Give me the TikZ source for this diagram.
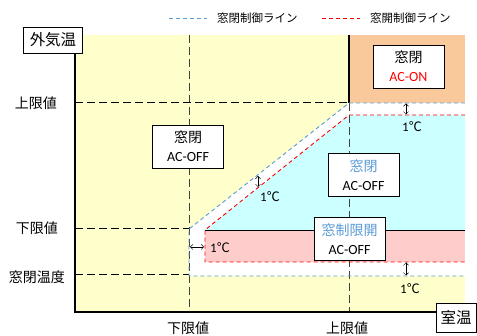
\documentclass[tikz,border=0pt]{standalone}
\usepackage{fontspec}
\setmainfont{Carlito}
\newfontfamily\jp{Noto Sans CJK JP}
\usetikzlibrary{arrows.meta}
\definecolor{bgyellow}{HTML}{FFFFCC}
\definecolor{bgorange}{HTML}{F9C89B}
\definecolor{bgcyan}{HTML}{CCFFFF}
\definecolor{bgpink}{HTML}{FFCCCC}
\definecolor{lblue}{HTML}{5B9BD5}
\definecolor{lred}{HTML}{FF0000}
\definecolor{dgray}{HTML}{404040}
\tikzset{
  bluedash/.style={draw=lblue, line width=0.9pt, dash pattern=on 4pt off 3pt},
  reddash/.style={draw=lred, line width=0.9pt, dash pattern=on 4pt off 3pt},
  blackdash/.style={draw=black, line width=1pt, dash pattern=on 8pt off 4pt},
  graydash/.style={draw=dgray, line width=1pt, dash pattern=on 8pt off 4pt},
  statebox/.style={draw, fill=white, line width=0.8pt, minimum width=71pt, minimum height=43pt, inner sep=0pt, align=center, font=\fontsize{14}{19}\selectfont},
  axlabel/.style={draw, fill=white, line width=0.8pt, inner sep=0pt, font=\jp\fontsize{15.5}{18}\selectfont},
  ticklabel/.style={inner sep=0pt, font=\jp\fontsize{14}{16}\selectfont},
  deglabel/.style={inner sep=0pt, font=\fontsize{13}{15}\selectfont},
  legtext/.style={inner sep=0pt, font=\jp\fontsize{11.5}{13}\selectfont},
  dimarrow/.style={{Straight Barb[length=2.5pt,width=5pt]}-{Straight Barb[length=2.5pt,width=5pt]}, line width=0.5pt}
}
\begin{document}
\begin{tikzpicture}[x=1pt,y=-1pt]
\useasboundingbox (0,0) rectangle (477,336);
% regions
\fill[bgyellow] (75,35) rectangle (465,312);
\fill[bgorange] (349,35) rectangle (465,103);
\fill[white] (189,229) -- (349,103) -- (465,103) -- (465,276) -- (189,276) -- cycle;
\fill[bgcyan] (205,230) -- (349,115) -- (465,115) -- (465,230) -- cycle;
\fill[bgpink] (205,230) rectangle (465,262);
% grid lines
\draw[graydash] (189,35) -- (189,312);
\draw[graydash] (349,103) -- (349,312);
\draw[line width=1.5pt] (349,35) -- (349,103);
\draw[blackdash] (75,103) -- (349,103);
\draw[blackdash] (75,229) -- (189,229);
\draw[blackdash] (75,275) -- (189,275);
\draw[line width=0.9pt] (205,230) -- (465,230);
% control lines
\draw[bluedash] (465,103) -- (349,103) -- (189,229) -- (189,276) -- (465,276);
\draw[reddash] (465,115) -- (349,115) -- (205,230) -- (205,262) -- (465,262);
% axes
\draw[line width=2.5pt] (75,52) -- (75,312) -- (436,312);
\node[axlabel, minimum width=59pt, minimum height=26pt] (ylab) at (53,40) {外気温};
\node[axlabel, minimum width=40pt, minimum height=29pt] (xlab) at (456,317.5) {室温};
% tick labels
\node[ticklabel] (yhi) at (36,103) {上限値};
\node[ticklabel] (ylo) at (37,228) {下限値};
\node[ticklabel] (yclose) at (37,277) {窓閉温度};
\node[ticklabel] (xlo) at (188,328) {下限値};
\node[ticklabel] (xhi) at (347,328) {上限値};
% state boxes
\node[statebox] (on) at (408.5,66.5) {{\jp 窓閉}\\\textcolor{lred}{AC-ON}};
\node[statebox] (offl) at (188,146.5) {{\jp 窓閉}\\AC-OFF};
\node[statebox] (offr) at (363.5,175) {{\jp\color{lblue}窓閉}\\AC-OFF};
\node[statebox] (lim) at (349.5,239) {{\jp\color{lblue}窓制限開}\\AC-OFF};
% dimension arrows
\coordinate (a1s) at (406,103.5); \coordinate (a1e) at (406,114.5);
\coordinate (a2s) at (258,176); \coordinate (a2e) at (258,187);
\coordinate (a3s) at (190,247); \coordinate (a3e) at (204,247);
\coordinate (a4s) at (406,262.5); \coordinate (a4e) at (406,275.5);
\draw[dimarrow] (a1s) -- (a1e);
\draw[dimarrow] (a2s) -- (a2e);
\draw[dimarrow] (a3s) -- (a3e);
\draw[dimarrow] (a4s) -- (a4e);
\node[deglabel] (d1) at (412,127) {1{\jp ℃}};
\node[deglabel] (d2) at (270,197) {1{\jp ℃}};
\node[deglabel] (d3) at (220,248) {1{\jp ℃}};
\node[deglabel] (d4) at (410,289) {1{\jp ℃}};
% legend
\coordinate (lb1) at (169,18); \coordinate (lb2) at (207,18);
\coordinate (lr1) at (322,18); \coordinate (lr2) at (360,18);
\draw[bluedash] (lb1) -- (lb2);
\draw[reddash] (lr1) -- (lr2);
\node[legtext, anchor=west] (lbt) at (217,18) {窓閉制御ライン};
\node[legtext, anchor=west] (lrt) at (370,18) {窓開制御ライン};
\end{tikzpicture}
\end{document}
